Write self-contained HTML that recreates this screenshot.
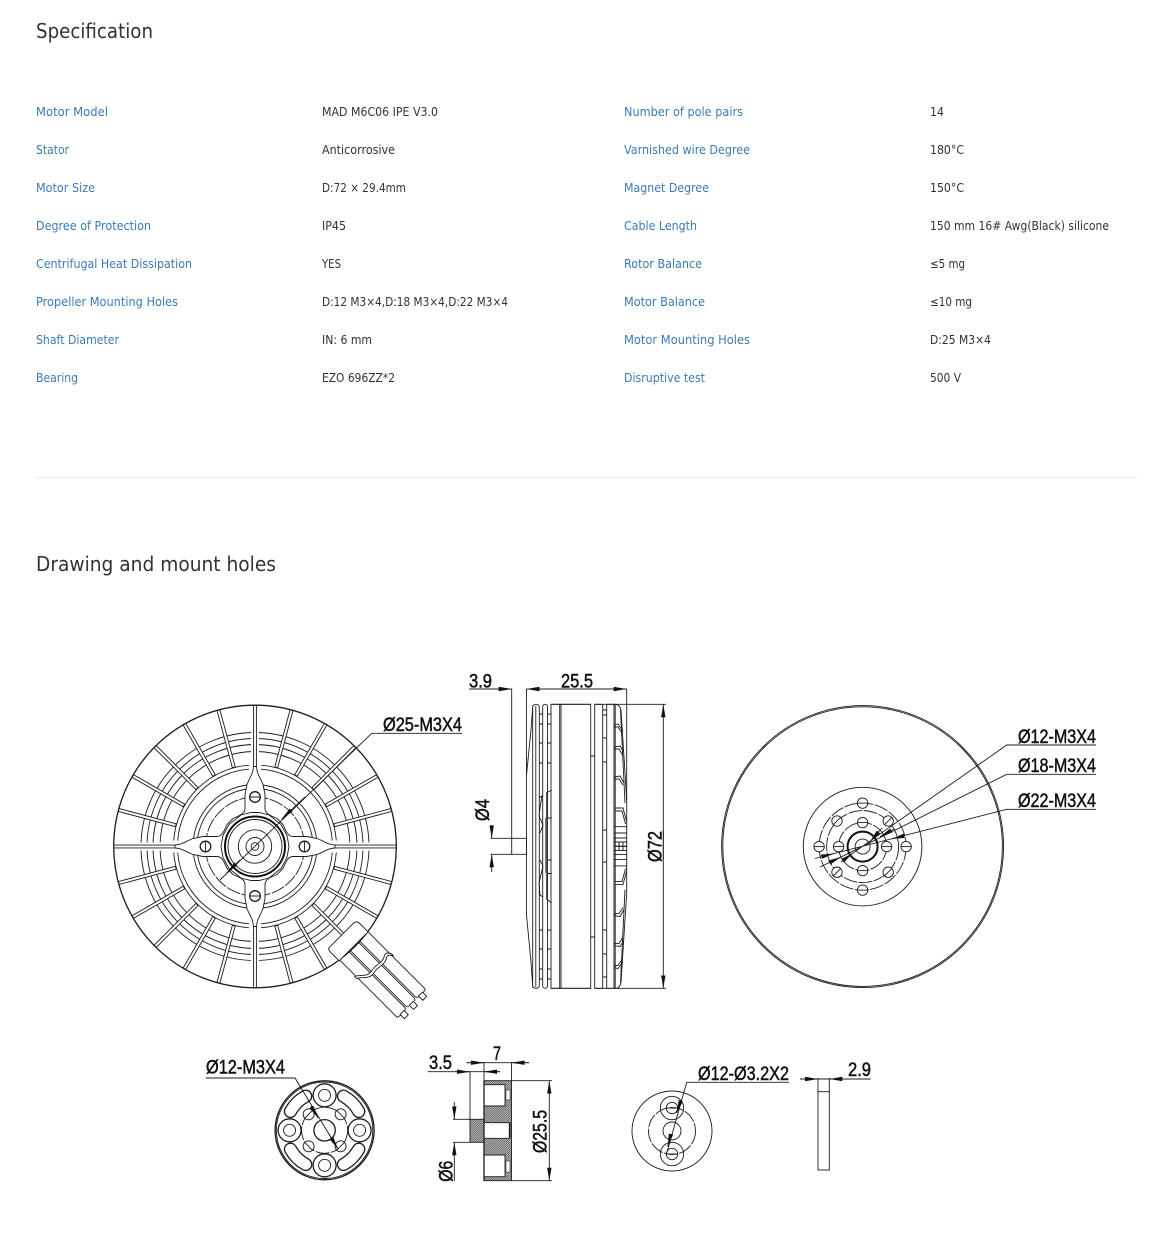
<!DOCTYPE html>
<html><head><meta charset="utf-8"><title>Specification</title>
<style>
html,body{margin:0;padding:0;background:#fff}
svg{display:block}
.h{font:20.5px "DejaVu Sans",sans-serif;fill:#333}
.l{font:12px "DejaVu Sans",sans-serif;fill:#3b7ab5}
.v{font:12px "DejaVu Sans",sans-serif;fill:#333}
.d{font:19px "Liberation Sans",sans-serif;fill:#111;stroke:#111;stroke-width:.5}
.s{fill:none;stroke:#1c1c1c;stroke-width:.9}
.w{fill:#fff;stroke:#1c1c1c;stroke-width:.9}
.t{fill:none;stroke:#1c1c1c;stroke-width:1.3}
.dash{stroke-dasharray:14 1.5}
</style></head><body>
<svg width="1173" height="1252" viewBox="0 0 1173 1252" xmlns="http://www.w3.org/2000/svg">
<defs>
<marker id="a" markerUnits="userSpaceOnUse" markerWidth="13" markerHeight="5" refX="13" refY="2.5" orient="auto"><path d="M0,.3L13,2.5L0,4.7z" fill="#111"/></marker>
<pattern id="hatch" patternUnits="userSpaceOnUse" width="2.2" height="2.2"><rect width="2.2" height="2.2" fill="#ccc"/><path d="M-.55,.55L.55,-.55M0,2.2L2.2,0M1.65,2.75L2.75,1.65" stroke="#333" stroke-width=".6"/></pattern>
<rect id="sp" x="-1.5" y="-141" width="3" height="59" class="w"/>
<path id="ax" d="M-1.4,-141V-78M1.4,-141V-78" class="s"/>
<path id="sec" d="M6,-81.3A81.5,81.5 0 0 1 81.3,-6M6,-77.3A77.5,77.5 0 0 1 77.3,-6" class="s"/>
<path id="slot" d="M-12.4,-43.3A45,45 0 0 1 12.4,-43.3A6,6 0 0 1 9.1,-31.7A33,33 0 0 0 -9.1,-31.7A6,6 0 0 1 -12.4,-43.3Z" class="t"/>
<g id="hole"><circle r="5.2" class="w"/><path d="M-5.2,0H5.2" class="s"/></g>
</defs>
<rect width="1173" height="1252" fill="#fff"/>

<text class="h" x="36" y="38" textLength="117" lengthAdjust="spacingAndGlyphs">Specification</text>

<g class="l">
<text x="36" y="116" textLength="72" lengthAdjust="spacingAndGlyphs">Motor Model</text>
<text x="36" y="154" textLength="33" lengthAdjust="spacingAndGlyphs">Stator</text>
<text x="36" y="192" textLength="59" lengthAdjust="spacingAndGlyphs">Motor Size</text>
<text x="36" y="230" textLength="115" lengthAdjust="spacingAndGlyphs">Degree of Protection</text>
<text x="36" y="268" textLength="156" lengthAdjust="spacingAndGlyphs">Centrifugal Heat Dissipation</text>
<text x="36" y="306" textLength="142" lengthAdjust="spacingAndGlyphs">Propeller Mounting Holes</text>
<text x="36" y="344" textLength="83" lengthAdjust="spacingAndGlyphs">Shaft Diameter</text>
<text x="36" y="382" textLength="42" lengthAdjust="spacingAndGlyphs">Bearing</text>
<text x="624" y="116" textLength="119" lengthAdjust="spacingAndGlyphs">Number of pole pairs</text>
<text x="624" y="154" textLength="126" lengthAdjust="spacingAndGlyphs">Varnished wire Degree</text>
<text x="624" y="192" textLength="85" lengthAdjust="spacingAndGlyphs">Magnet Degree</text>
<text x="624" y="230" textLength="73" lengthAdjust="spacingAndGlyphs">Cable Length</text>
<text x="624" y="268" textLength="78" lengthAdjust="spacingAndGlyphs">Rotor Balance</text>
<text x="624" y="306" textLength="81" lengthAdjust="spacingAndGlyphs">Motor Balance</text>
<text x="624" y="344" textLength="126" lengthAdjust="spacingAndGlyphs">Motor Mounting Holes</text>
<text x="624" y="382" textLength="81" lengthAdjust="spacingAndGlyphs">Disruptive test</text>
</g>
<g class="v">
<text x="322" y="116" textLength="116" lengthAdjust="spacingAndGlyphs">MAD M6C06 IPE V3.0</text>
<text x="322" y="154" textLength="73" lengthAdjust="spacingAndGlyphs">Anticorrosive</text>
<text x="322" y="192" textLength="84" lengthAdjust="spacingAndGlyphs">D:72 × 29.4mm</text>
<text x="322" y="230" textLength="24" lengthAdjust="spacingAndGlyphs">IP45</text>
<text x="322" y="268" textLength="19" lengthAdjust="spacingAndGlyphs">YES</text>
<text x="322" y="306" textLength="186" lengthAdjust="spacingAndGlyphs">D:12 M3×4,D:18 M3×4,D:22 M3×4</text>
<text x="322" y="344" textLength="50" lengthAdjust="spacingAndGlyphs">IN: 6 mm</text>
<text x="322" y="382" textLength="73" lengthAdjust="spacingAndGlyphs">EZO 696ZZ*2</text>
<text x="930" y="116" textLength="14" lengthAdjust="spacingAndGlyphs">14</text>
<text x="930" y="154" textLength="34" lengthAdjust="spacingAndGlyphs">180°C</text>
<text x="930" y="192" textLength="34" lengthAdjust="spacingAndGlyphs">150°C</text>
<text x="930" y="230" textLength="179" lengthAdjust="spacingAndGlyphs">150 mm 16# Awg(Black) silicone</text>
<text x="930" y="268" textLength="35" lengthAdjust="spacingAndGlyphs">≤5 mg</text>
<text x="930" y="306" textLength="42" lengthAdjust="spacingAndGlyphs">≤10 mg</text>
<text x="930" y="344" textLength="61" lengthAdjust="spacingAndGlyphs">D:25 M3×4</text>
<text x="930" y="382" textLength="31" lengthAdjust="spacingAndGlyphs">500 V</text>
</g>

<rect x="36" y="477" width="1102" height="1" fill="#eee"/>
<text class="h" x="36" y="571" textLength="240" lengthAdjust="spacingAndGlyphs">Drawing and mount holes</text>

<!-- Motor front view -->
<g transform="translate(255 846.5)">
<circle r="141.3" class="t" fill="#fff"/>
<circle r="114" class="s"/><circle r="108" class="s"/><circle r="102" class="s"/><circle r="95" class="s"/>
<circle r="62" class="s"/><circle r="58" class="s"/><circle r="49.5" class="s dash"/>
<use href="#sp" transform="rotate(15)"/><use href="#sp" transform="rotate(30)"/><use href="#sp" transform="rotate(45)"/><use href="#sp" transform="rotate(60)"/><use href="#sp" transform="rotate(75)"/>
<use href="#sp" transform="rotate(105)"/><use href="#sp" transform="rotate(120)"/><use href="#sp" transform="rotate(135)"/><use href="#sp" transform="rotate(150)"/><use href="#sp" transform="rotate(165)"/>
<use href="#sp" transform="rotate(195)"/><use href="#sp" transform="rotate(210)"/><use href="#sp" transform="rotate(225)"/><use href="#sp" transform="rotate(240)"/><use href="#sp" transform="rotate(255)"/>
<use href="#sp" transform="rotate(285)"/><use href="#sp" transform="rotate(300)"/><use href="#sp" transform="rotate(315)"/><use href="#sp" transform="rotate(330)"/><use href="#sp" transform="rotate(345)"/>
<rect x="-4" y="-117" width="8" height="24" fill="#fff"/><rect x="-4" y="93" width="8" height="24" fill="#fff"/><rect x="-117" y="-4" width="24" height="8" fill="#fff"/><rect x="93" y="-4" width="24" height="8" fill="#fff"/>
<use href="#ax"/><use href="#ax" transform="rotate(90)"/><use href="#ax" transform="rotate(180)"/><use href="#ax" transform="rotate(270)"/>
<use href="#sec"/><use href="#sec" transform="rotate(90)"/><use href="#sec" transform="rotate(180)"/><use href="#sec" transform="rotate(270)"/>
<path class="w" stroke-width="1.3" d="M-1.5,-80C-2,-72 -5,-70 -8,-62L-10,-52V-38C-10,-33 -15,-31 -22,-28L-28,-22C-31,-15 -33,-10 -38,-10H-52L-62,-8C-70,-5 -72,-2 -80,-1.5V1.5C-72,2 -70,5 -62,8L-52,10H-38C-33,10 -31,15 -28,22L-22,28C-15,31 -10,33 -10,38V52L-8,62C-5,70 -2,72 -1.5,80H1.5C2,72 5,70 8,62L10,52V38C10,33 15,31 22,28L28,22C31,15 33,10 38,10H52L62,8C70,5 72,2 80,1.5V-1.5C72,-2 70,-5 62,-8L52,-10H38C33,-10 31,-15 28,-22L22,-28C15,-31 10,-33 10,-38V-52L8,-62C5,-70 2,-72 1.5,-80Z"/>
<circle cx="-49.5" cy="0" r="5.3" class="t"/><circle cx="49.5" cy="0" r="5.3" class="t"/><circle cx="0" cy="-49.5" r="5.3" class="t"/><circle cx="0" cy="49.5" r="5.3" class="t"/>
<path class="s" d="M-5,-49.5H5M-5,49.5H5M-49.5,-5V5M49.5,-5V5"/>
<path class="w" d="M-14,-31.5L-4,-34H4L14,-31.5L26,-22L32,-11L34,0L32,11L26,22L14,31.5L4,34H-4L-14,31.5L-26,22L-32,11L-34,0L-32,-11L-26,-22Z"/>
<circle r="30" fill="#fff" stroke="#111" stroke-width="2"/><circle r="27" class="s"/>
<circle r="16.7" class="s"/><circle r="9" class="s"/><circle r="3.8" class="s"/>
</g>
<!-- wires -->
<g transform="translate(354 946) rotate(45)">
<path class="s" d="M0,-20H81M0,-7.5H80M0,-5.8H80M0,5.8H80M0,7.5H80M0,20H81M81,-20L82,-16M80,-7.5L82,-10M80,-5.8L82,-4M80,5.8L82,4M80,7.5L82,10M81,20L82,16"/>
<path d="M22,21C24,16 32,13 30,5C28,-3 33,-9 28,-15Q27,-19 32,-21L35,-21Q30,-19 31,-15C36,-9 31,-3 33,5C35,13 27,16 25,21Z" fill="#fff" stroke="#1c1c1c" stroke-width=".9"/>
<rect x="81" y="-15.8" width="6" height="5.6" class="w"/><rect x="81" y="-2.8" width="6" height="5.6" class="w"/><rect x="81" y="10.2" width="6" height="5.6" class="w"/>
<path class="w" stroke-width="1.3" d="M0,-20V21H-13Q-16.5,21 -16.5,17.5V-15Q-16.5,-20 -12,-20Z"/>
</g>
<!-- leader Ø25 -->
<path class="s" d="M462,733.3H371.7L220,880"/>
<line x1="305" y1="797" x2="281.7" y2="819" class="s" marker-end="url(#a)"/>
<line x1="240" y1="860" x2="226.7" y2="873" class="s" marker-end="url(#a)"/>
<text class="d" x="383" y="731" textLength="79" lengthAdjust="spacingAndGlyphs">Ø25-M3X4</text>

<!-- Side view -->
<g>
<path class="s" d="M533,705Q532,715 531,730L526.5,775V915L531,962Q532,978 533,988"/>
<rect x="532.7" y="704.3" width="6.6" height="284" rx="3" class="w"/>
<rect x="542.7" y="704.3" width="4.8" height="284" rx="2.4" class="w"/>
<path class="s" d="M535.8,706V987"/>
<rect x="551" y="704.3" width="39.7" height="284" class="w" stroke-width="1.1"/>
<path class="s" d="M559.7,704.3V988.3M561,704.3V988.3"/>
<rect x="594.7" y="704.3" width="8" height="284" class="w"/>
<rect x="606.7" y="704.3" width="7.3" height="284" class="w"/>
<path class="s" d="M590.7,756H594.7M590.7,937H594.7"/>
<path class="s" d="M539.3,714H542.7M539.3,724H542.7M539.3,743H542.7M539.3,763H542.7M539.3,930H542.7M539.3,949H542.7M539.3,969H542.7M539.3,979H542.7M547.5,714H551M547.5,724H551M547.5,743H551M547.5,763H551M547.5,930H551M547.5,949H551M547.5,969H551M547.5,979H551"/>
<path class="s" d="M602.7,710H606.7M602.7,715H606.7M602.7,738H606.7M602.7,762H606.7M602.7,830H606.7M602.7,862H606.7M602.7,930H606.7M602.7,954H606.7M602.7,977H606.7"/>
<path class="s" d="M539,798L542,796L540,808L539,816L543,825L540,833M540,860L543,866L539,883L540,895L543,897"/>
<path class="s" d="M551.7,790L546.7,792.7V818H551.7M546.7,860H551.7M546.7,873.5H551.7M546.7,873.5V899L551.7,903"/>
<path d="M546.2,818V873" stroke="#555" stroke-width="2" fill="none"/>
<g id="fan">
<path class="w" d="M614,704.3H616Q620,705 621,710L626.7,800V846.3H614Z"/>
<path class="s" d="M615.2,704.3V846.3M620.5,710L625,803"/>
<path class="s" d="M614,725L618,724L623,731M614,727H618L622,733M614,747L620,746L623.5,752M614,749H619L622.5,755M614,777L620,776L624,783M614,779H619L623,785M615,808H623L626.7,822M615,811H622L625.5,824"/>
<path class="s" d="M614,826.7H626.7M614,833H626.7M614,838H626.7M614,842H626.7M614,846.3H626.7M619,842V846.3M623,842V846.3"/>
</g>
<use href="#fan" transform="matrix(1 0 0 -1 0 1692.6)"/>
<path class="s" d="M551,704.3H590.7M594.7,704.3H614M551,988.3H590.7M594.7,988.3H614"/>
<!-- shaft -->
<path class="s" d="M490.7,838.3H526.5V854.3H490.7M511.7,689V854.3M526.5,689V775"/>
<!-- dims -->
<path class="s" d="M469,689H511.7M526.5,689H626.7M626.7,689V800M614,704.3H666M614,988.3H666"/>
<line x1="495" y1="689" x2="511.7" y2="689" class="s" marker-end="url(#a)"/>
<line x1="542" y1="689" x2="526.5" y2="689" class="s" marker-end="url(#a)"/>
<line x1="610" y1="689" x2="626.7" y2="689" class="s" marker-end="url(#a)"/>
<line x1="663.3" y1="860" x2="663.3" y2="704.3" class="s" marker-end="url(#a)"/>
<line x1="663.3" y1="830" x2="663.3" y2="988.3" class="s" marker-end="url(#a)"/>
<line x1="491.7" y1="825" x2="491.7" y2="838.3" class="s" marker-end="url(#a)"/>
<line x1="491.7" y1="872" x2="491.7" y2="854.3" class="s" marker-end="url(#a)"/>
<text class="d" x="469" y="687.7" textLength="23" lengthAdjust="spacingAndGlyphs">3.9</text>
<text class="d" x="561" y="687.7" textLength="32" lengthAdjust="spacingAndGlyphs">25.5</text>
<text class="d" transform="translate(661.5 862) rotate(-90)" textLength="31" lengthAdjust="spacingAndGlyphs">Ø72</text>
<text class="d" transform="translate(489 821) rotate(-90)" textLength="22" lengthAdjust="spacingAndGlyphs">Ø4</text>
</g>

<!-- Rear view -->
<g transform="translate(862.6 846.6)">
<circle r="141" class="s"/><circle r="139.8" class="s"/>
<circle r="59.3" class="s"/>
<circle r="24" class="s dash"/><circle r="36" class="s dash"/><circle r="43.5" class="s dash"/>
<circle r="15" fill="#fff" stroke="#111" stroke-width="2"/><circle r="7.5" class="s"/>
<use href="#hole" x="0" y="-24"/><use href="#hole" x="0" y="24"/><use href="#hole" x="-24" y="0"/><use href="#hole" x="24" y="0"/>
<use href="#hole" x="25.6" y="-25.6" transform="rotate(-45 25.6 -25.6)"/><use href="#hole" x="-25.6" y="-25.6" transform="rotate(-45 -25.6 -25.6)"/><use href="#hole" x="-25.6" y="25.6" transform="rotate(-45 -25.6 25.6)"/><use href="#hole" x="25.6" y="25.6" transform="rotate(-45 25.6 25.6)"/>
<use href="#hole" x="0" y="-43.5"/><use href="#hole" x="0" y="43.5"/><use href="#hole" x="-43.5" y="0"/><use href="#hole" x="43.5" y="0"/>
</g>
<path class="s" d="M1096,745H1006.7L853,853M1096,774.3H1006.7L831.7,861.7M1096,809.3H1006.7L821.7,856.7"/>
<line x1="882" y1="828" x2="870" y2="841.7" class="s" marker-end="url(#a)"/>
<line x1="841" y1="862" x2="853" y2="853" class="s" marker-end="url(#a)"/>
<line x1="894" y1="829" x2="880" y2="836.7" class="s" marker-end="url(#a)"/>
<line x1="820" y1="867" x2="841" y2="857" class="s" marker-end="url(#a)"/>
<line x1="905" y1="835.5" x2="891.7" y2="839" class="s" marker-end="url(#a)"/>
<line x1="815" y1="858.5" x2="834" y2="853.5" class="s" marker-end="url(#a)"/>
<text class="d" x="1018" y="743" textLength="78" lengthAdjust="spacingAndGlyphs">Ø12-M3X4</text>
<text class="d" x="1018" y="772" textLength="78" lengthAdjust="spacingAndGlyphs">Ø18-M3X4</text>
<text class="d" x="1018" y="807" textLength="78" lengthAdjust="spacingAndGlyphs">Ø22-M3X4</text>

<!-- small adapter 1 -->
<g transform="translate(324.6 1130.3)">
<circle r="49.5" class="t"/><circle r="48.2" class="s"/>
<circle r="10.7" class="t"/><circle r="23" class="s dash"/>
<g id="ring"><circle cy="-35" r="11.5" class="t"/><circle cy="-35" r="6" class="s"/></g>
<use href="#ring" transform="rotate(90)"/><use href="#ring" transform="rotate(180)"/><use href="#ring" transform="rotate(270)"/>
<use href="#slot" transform="rotate(45)"/><use href="#slot" transform="rotate(135)"/><use href="#slot" transform="rotate(225)"/><use href="#slot" transform="rotate(315)"/>
<circle cx="-16" cy="-16" r="5.5" class="w" stroke-width="1.2"/><circle cx="16" cy="-16" r="5.5" class="w" stroke-width="1.2"/><circle cx="-16" cy="16" r="5.5" class="w" stroke-width="1.2"/><circle cx="16" cy="16" r="5.5" class="w" stroke-width="1.2"/>
<path class="s" d="M-20,-12L-12,-20M12,-20L20,-12M-20,12L-12,20M12,20L20,12"/>
</g>
<path class="s" d="M206,1078H295L338,1149"/>
<line x1="311" y1="1106" x2="318" y2="1118" class="s" marker-end="url(#a)"/>
<line x1="329" y1="1134" x2="338" y2="1149" class="s" marker-end="url(#a)"/>
<text class="d" x="206" y="1073.5" textLength="79" lengthAdjust="spacingAndGlyphs">Ø12-M3X4</text>

<!-- section -->
<g>
<path d="M484,1080.7H511.5V1180.7H484V1176.7H505V1155H484V1138.3H509.3V1122.7H484V1106H505V1084.7H484Z" fill="url(#hatch)" stroke="#1c1c1c" stroke-width=".9"/>
<rect x="506" y="1090" width="4" height="10" fill="#fff" stroke="#333" stroke-width=".6"/>
<rect x="506" y="1161" width="4" height="11" fill="#fff" stroke="#333" stroke-width=".6"/>
<rect x="470" y="1119.3" width="14" height="23" fill="url(#hatch)" stroke="#1c1c1c" stroke-width=".9"/>
<path d="M484,1080.7V1180.7M509.8,1122.7V1138.3" stroke="#1c1c1c" stroke-width="1.3" fill="none"/>
<path class="s" d="M484,1062V1080.7M511.5,1062V1080.7M470,1071.7V1119.3M511.5,1080.7H552M511.5,1180.7H552M453,1119.3H470M453,1142.3H470M466.7,1062.7H529M428,1071.7H500"/>
<line x1="466.7" y1="1062.7" x2="484" y2="1062.7" class="s" marker-end="url(#a)"/>
<line x1="529" y1="1062.7" x2="511.5" y2="1062.7" class="s" marker-end="url(#a)"/>
<line x1="455" y1="1071.7" x2="470" y2="1071.7" class="s" marker-end="url(#a)"/>
<line x1="500" y1="1071.7" x2="484" y2="1071.7" class="s" marker-end="url(#a)"/>
<line x1="549.3" y1="1130" x2="549.3" y2="1080.7" class="s" marker-end="url(#a)"/>
<line x1="549.3" y1="1130" x2="549.3" y2="1180.7" class="s" marker-end="url(#a)"/>
<line x1="454.3" y1="1101.7" x2="454.3" y2="1119.3" class="s" marker-end="url(#a)"/>
<line x1="454.3" y1="1181" x2="454.3" y2="1142.3" class="s" marker-end="url(#a)"/>
<text class="d" x="493" y="1060" textLength="8" lengthAdjust="spacingAndGlyphs">7</text>
<text class="d" x="429" y="1069" textLength="23" lengthAdjust="spacingAndGlyphs">3.5</text>
<text class="d" transform="translate(546.7 1153) rotate(-90)" textLength="43" lengthAdjust="spacingAndGlyphs">Ø25.5</text>
<text class="d" transform="translate(452.7 1181.7) rotate(-90)" textLength="21" lengthAdjust="spacingAndGlyphs">Ø6</text>
</g>

<!-- small adapter 2 -->
<g transform="translate(672 1131)">
<circle r="40" class="s"/><circle r="23.5" class="s dash"/><circle r="9" class="s"/>
<circle cy="-23" r="11.7" class="s"/><circle cy="-23" r="5.7" class="s"/><circle cy="23" r="11.7" class="s"/><circle cy="23" r="5.7" class="s"/>
<path class="s" d="M-5.7,-23H5.7M-5.7,23H5.7"/>
</g>
<path class="s" d="M789,1082.3H686.7L666.7,1153.3"/>
<line x1="681" y1="1100" x2="676.7" y2="1113" class="s" marker-end="url(#a)"/>
<line x1="671" y1="1134" x2="667.7" y2="1146.7" class="s" marker-end="url(#a)"/>
<text class="d" x="698" y="1080" textLength="91" lengthAdjust="spacingAndGlyphs">Ø12-Ø3.2X2</text>

<rect x="818" y="1091.7" width="11.3" height="78.3" class="s"/>
<path class="s" d="M818,1078V1092M829.3,1078V1092M800,1079H870.7"/>
<line x1="802" y1="1079" x2="818" y2="1079" class="s" marker-end="url(#a)"/>
<line x1="845" y1="1079" x2="829.3" y2="1079" class="s" marker-end="url(#a)"/>
<text class="d" x="848" y="1076" textLength="23" lengthAdjust="spacingAndGlyphs">2.9</text>
</svg>
</body></html>
